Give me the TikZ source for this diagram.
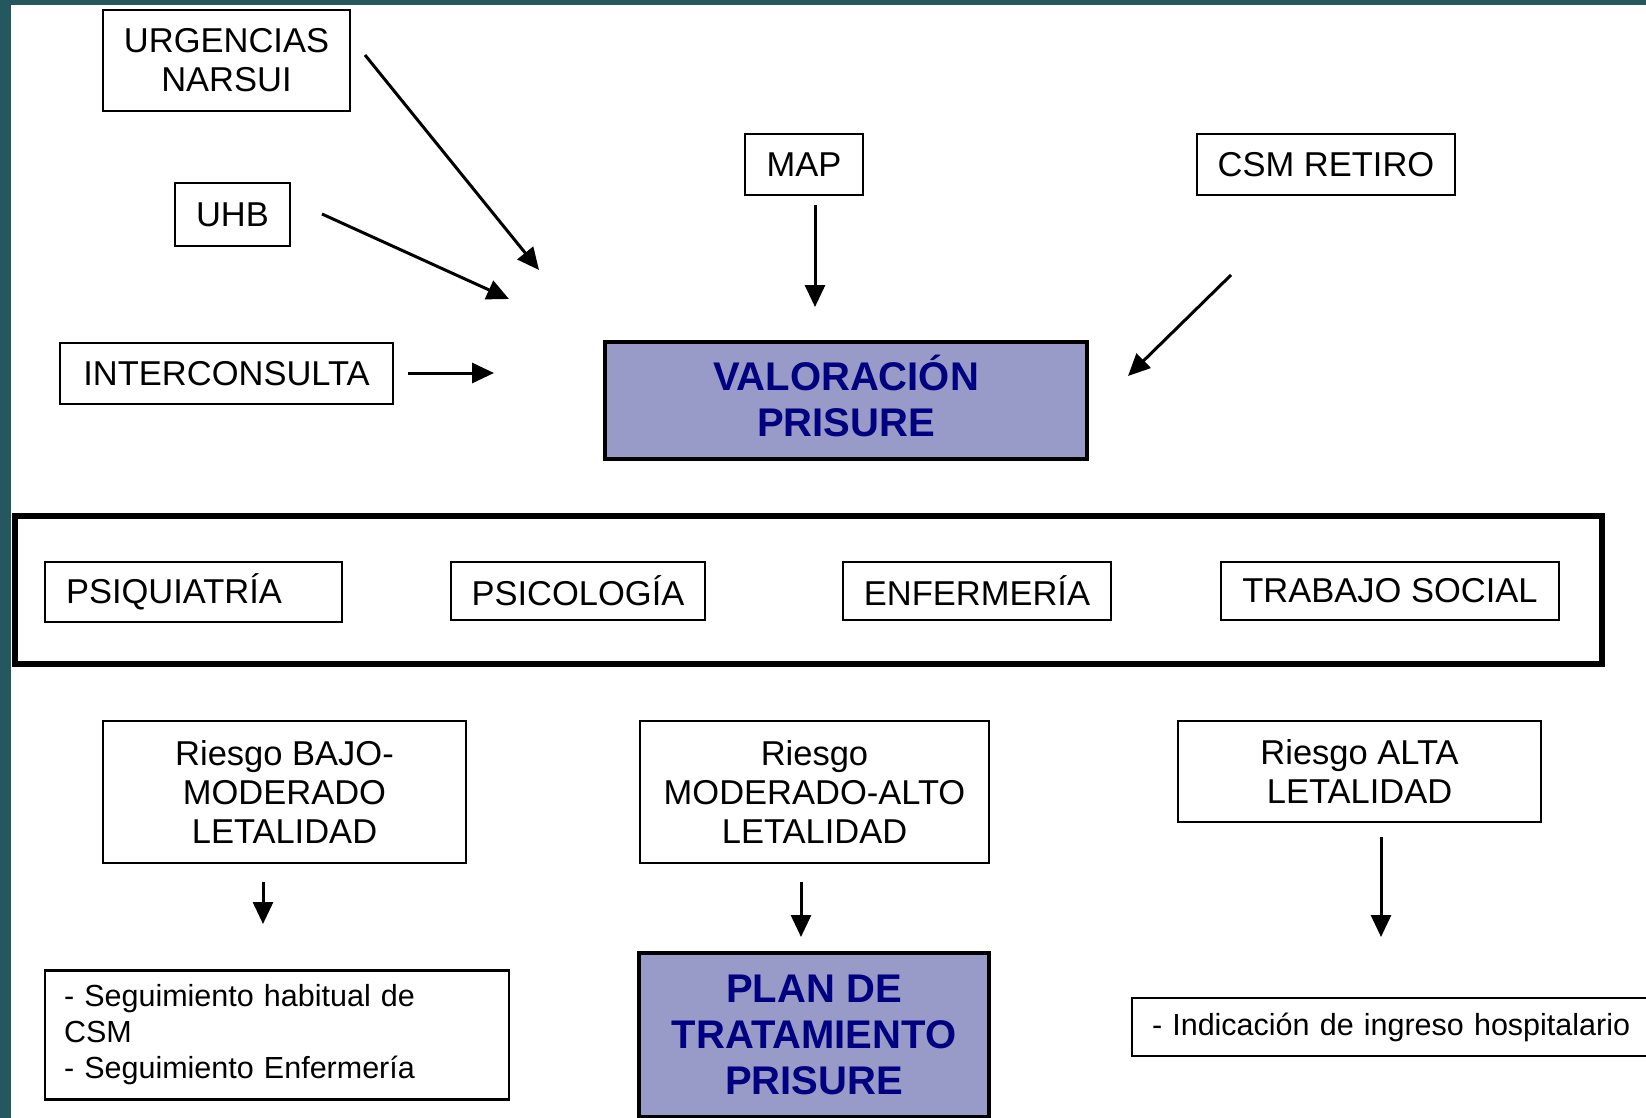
\documentclass[tikz,border=0pt]{standalone}
\usepackage{fontspec}
\setmainfont{Liberation Sans}
\usepackage{xcolor}
\usetikzlibrary{positioning, arrows.meta}

\definecolor{bgteal}{RGB}{36,88,94}
\definecolor{boxfill}{RGB}{152,155,200}
\definecolor{navytext}{RGB}{0,0,128}

\begin{document}
\begin{tikzpicture}[x=1pt, y=-1pt,
    box/.style={draw, line width=2.5pt, inner sep=0pt, align=center, font=\fontsize{34.5}{39}\selectfont},
    hibox/.style={draw, fill=boxfill, text=navytext, inner sep=0pt, align=center, font=\fontsize{40}{46}\selectfont\bfseries},
    listbox/.style={draw, line width=2.5pt, inner xsep=19pt, inner ysep=0pt, align=left, font=\fontsize{30.5}{36}\selectfont},
    arr/.style={line width=3pt, -{Triangle[length=22pt, width=20pt]}}]

% --- Background (slide border) ---
\fill[bgteal] (0,0) rectangle (1646,1118);
\fill[white] (11,5) rectangle (1646,1118);
\useasboundingbox (0,0) rectangle (1646,1118);

% --- Referral sources ---
\node[box, minimum width=247pt, minimum height=101pt] (urg) at (226.5,60.5) {URGENCIAS\\NARSUI};
\node[box, minimum width=115pt, minimum height=63pt] (uhb) at (232.5,214.5) {UHB};
\node[box, minimum width=333pt, minimum height=61pt] (inter) at (226.5,373.5) {INTERCONSULTA};
\node[box, minimum width=118pt, minimum height=61pt] (map) at (804,164.5) {MAP};
\node[box, minimum width=258pt, minimum height=61pt] (csm) at (1326,164.5) {CSM RETIRO};

% --- Assessment ---
\node[hibox, line width=3.5pt, text depth=9pt, minimum width=482pt, minimum height=117pt] (val) at (846,400.5) {VALORACIÓN\\PRISURE};

% Arrow ends (arrows stop short of the box)
\coordinate (urgA) at (365,55);    \coordinate (urgB) at (539,270);
\coordinate (uhbA) at (322,214);   \coordinate (uhbB) at (509,299);
\coordinate (intA) at (408,373);   \coordinate (intB) at (494,373);
\coordinate (mapA) at (815,205);   \coordinate (mapB) at (815,307);
\coordinate (csmA) at (1231,275);  \coordinate (csmB) at (1128,376);

\draw[arr] (urgA) -- (urgB);
\draw[arr] (uhbA) -- (uhbB);
\draw[arr] (intA) -- (intB);
\draw[arr] (mapA) -- (mapB);
\draw[arr] (csmA) -- (csmB);

% --- Team ---
\node[draw, line width=6pt, minimum width=1587pt, minimum height=148pt, inner sep=0pt] (team) at (808.5,590) {};
\node[box, inner xsep=21pt, text width=255pt, align=left, minimum height=60pt] (psiq) at (193.5,592) {PSIQUIATRÍA};
\node[box, minimum width=254pt, minimum height=58pt] (psic) at (578,591) {PSICOLOGÍA};
\node[box, minimum width=268pt, minimum height=58pt] (enf) at (977,591) {ENFERMERÍA};
\node[box, minimum width=338pt, minimum height=58pt] (ts) at (1390,591) {TRABAJO SOCIAL};

% --- Risk levels ---
\node[box, minimum width=363pt, minimum height=142pt] (bajo) at (284.5,792) {Riesgo BAJO-\\MODERADO\\LETALIDAD};
\node[box, minimum width=349pt, minimum height=142pt] (mod) at (814.5,792) {Riesgo\\MODERADO-ALTO\\LETALIDAD};
\node[box, minimum width=363pt, minimum height=101pt] (alta) at (1359.5,771.5) {Riesgo ALTA\\LETALIDAD};

\coordinate (bajoA) at (263,882);  \coordinate (bajoB) at (263,924);
\coordinate (modA) at (801,882);   \coordinate (modB) at (801,937);
\coordinate (altaA) at (1381,837); \coordinate (altaB) at (1381,937);

\draw[arr] (bajoA) -- (bajoB);
\draw[arr] (modA) -- (modB);
\draw[arr] (altaA) -- (altaB);

% --- Outcomes ---
\node[listbox, text width=426pt, minimum height=129pt] (seg) at (277,1035) {- Seguimiento habitual de\\CSM\\- Seguimiento Enfermería};
\node[hibox, line width=4pt, minimum width=350pt, minimum height=164pt] (plan) at (814,1035) {PLAN DE\\TRATAMIENTO\\PRISURE};
\node[listbox, inner xsep=20pt, text width=488pt, minimum height=58pt] (ind) at (1396,1027) {- Indicación de ingreso hospitalario};

\end{tikzpicture}
\end{document}
